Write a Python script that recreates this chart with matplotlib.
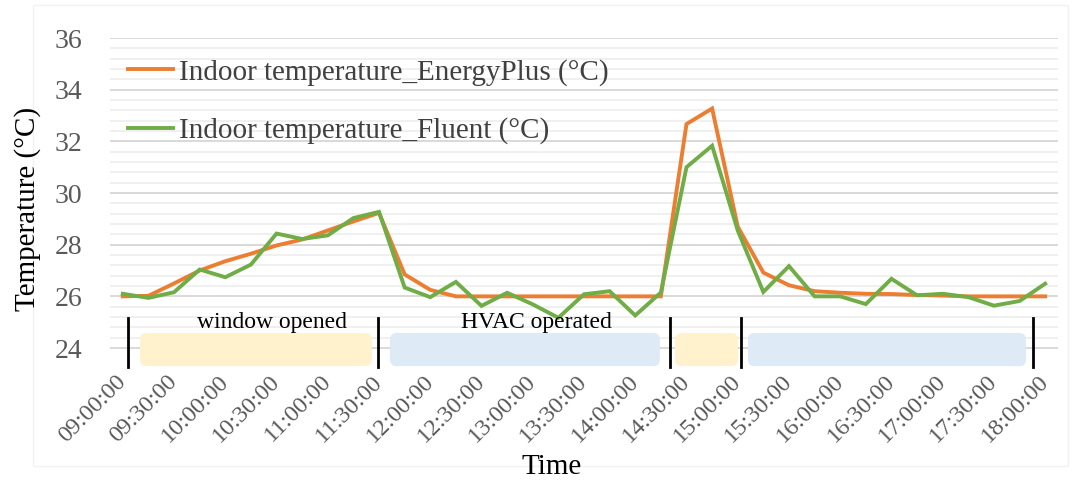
import matplotlib
matplotlib.use("Agg")
import matplotlib.pyplot as plt
from matplotlib.patches import FancyBboxPatch, Rectangle
from matplotlib.ticker import FixedLocator

# 15-minute samples from 09:00 to 18:00
times = [f"{9 + m // 60:02d}:{m % 60:02d}:00" for m in range(0, 9 * 60 + 1, 15)]

energyplus = [26.0, 26.02, 26.5, 27.0, 27.36, 27.65, 27.97, 28.2, 28.55, 28.9, 29.23,
              26.85, 26.25, 26.0, 26.0, 26.0, 26.0, 26.0, 26.0, 26.0, 26.0, 26.0,
              32.67, 33.27, 28.7, 26.92, 26.43, 26.2, 26.14, 26.1, 26.09, 26.05,
              26.03, 26.0, 26.0, 26.0, 26.0]
fluent = [26.1, 25.94, 26.16, 27.04, 26.74, 27.23, 28.43, 28.22, 28.36, 29.03, 29.27,
          26.34, 25.97, 26.56, 25.63, 26.14, 25.69, 25.17, 26.08, 26.2, 25.26, 26.15,
          31.0, 31.83, 28.55, 26.17, 27.17, 26.0, 26.0, 25.7, 26.68, 26.04,
          26.1, 25.97, 25.64, 25.82, 26.49]

series_labels = ["Indoor temperature_EnergyPlus (\u00b0C)",
                 "Indoor temperature_Fluent (\u00b0C)"]
series_colors = ["#ED7D31", "#70AD47"]

# operating phases along the time axis (in sample-index units)
phase_edges = [0.2, 9.96, 21.36, 24.13, 35.53]
phase_boxes = [(0.67, 9.72, "#FFF2CC"), (10.43, 20.96, "#DEEAF6"),
               (21.55, 24.01, "#FFF2CC"), (24.4, 35.25, "#DEEAF6")]
phase_texts = [(5.82, "window opened"), (16.13, "HVAC operated")]

plt.rcParams["font.family"] = ["Liberation Serif", "DejaVu Serif"]

fig = plt.figure(figsize=(10.75, 4.82), dpi=100)
fig.patches.append(Rectangle((33 / 1075, 1 - 466 / 482), 1035 / 1075, 461 / 482,
                             transform=fig.transFigure, fill=False,
                             edgecolor="#f2f2f2", linewidth=1.0, zorder=-5))
ax = fig.add_axes([110 / 1075, 1 - 367.4 / 482, 948 / 1075, 329.4 / 482])

x = list(range(len(times)))
for vals, lab, col in zip([energyplus, fluent], series_labels, series_colors):
    ax.plot(x, vals, color=col, linewidth=2.8, label=lab, solid_joinstyle="miter",
            zorder=3)

ax.set_xlim(-0.5, len(times) - 0.5)
ax.set_ylim(23.25, 36.0)

ax.yaxis.set_major_locator(FixedLocator([24, 26, 28, 30, 32, 34, 36]))
ax.yaxis.set_minor_locator(FixedLocator([24 + 0.4 * k for k in range(31)]))
ax.grid(which="major", axis="y", color="#d9d9d9", linewidth=1.4, zorder=0)
ax.grid(which="minor", axis="y", color="#eeeeee", linewidth=1.2, zorder=0)
ax.set_axisbelow(True)
for s in ax.spines.values():
    s.set_visible(False)

ax.set_xticks(x[::2])
ax.set_xticklabels(times[::2], rotation=45, ha="right", va="center",
                   rotation_mode="anchor", fontsize=17.5, color="#595959")
ax.tick_params(axis="x", length=0, pad=8)
ax.tick_params(axis="y", which="both", length=0, pad=20, labelsize=20,
               labelcolor="#595959")

ax.set_xlabel("Time", fontsize=21, x=0.466, labelpad=5)
ax.set_ylabel("Temperature (\u00b0C)", fontsize=21, labelpad=10, y=0.48)

# phase markers, shaded bands and their captions
for e in phase_edges:
    ax.plot([e, e], [23.25, 25.16], color="black", linewidth=2.0, zorder=4,
            clip_on=False)
for x0, x1, col in phase_boxes:
    ax.add_patch(FancyBboxPatch((x0, 23.3), x1 - x0, 24.58 - 23.3,
                                boxstyle="round,pad=0,rounding_size=0.25",
                                mutation_aspect=1.0, facecolor=col,
                                edgecolor="none", zorder=2))
for xc, txt in phase_texts:
    ax.text(xc, 25.0, txt, ha="center", va="center", fontsize=17,
            color="black", zorder=5)

leg = ax.legend(loc="upper left", bbox_to_anchor=(0.0, 0.99), frameon=False,
                fontsize=21, handlelength=1.55, handletextpad=0.2,
                labelspacing=1.08, borderaxespad=0.2)
for t in leg.get_texts():
    t.set_color("#404040")

fig.savefig("out.png", dpi=100, facecolor="white")
